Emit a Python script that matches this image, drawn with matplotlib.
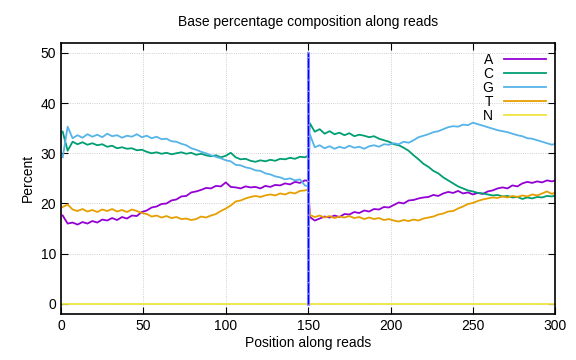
import numpy as np
import matplotlib
matplotlib.use('Agg')
import matplotlib.pyplot as plt

plt.rcParams['font.family'] = ['Liberation Sans', 'DejaVu Sans']

# positions along the reads (read 1: 1-150, read 2: 151-300)
positions = np.r_[np.arange(1, 149, 3), 150, np.arange(151, 299, 3), 300]

base_a = [17.6, 16.0, 16.2, 15.8, 16.3, 16.0, 16.5, 16.2, 16.8, 16.6, 17.1, 16.7, 17.3, 17.0, 17.6, 17.5, 18.3,
          18.6, 19.2, 19.4, 19.9, 20.0, 20.6, 20.8, 21.4, 21.5, 22.2, 22.4, 22.7, 23.1, 23.0, 23.5, 23.4, 24.2,
          23.3, 23.2, 23.0, 23.4, 23.2, 23.3, 23.0, 23.5, 23.3, 23.7, 23.6, 24.0, 23.8, 24.3, 24.1, 24.6, 24.5,
          17.3, 16.6, 17.0, 17.4, 17.2, 17.6, 17.3, 17.9, 17.8, 18.3, 18.1, 18.6, 18.4, 18.9, 18.8, 19.3, 19.2,
          19.7, 20.2, 20.0, 20.6, 20.7, 21.0, 21.2, 21.3, 21.7, 21.5, 22.0, 22.3, 22.1, 22.5, 22.0, 22.2, 21.8,
          22.1, 21.9, 22.4, 22.6, 23.0, 23.2, 23.0, 23.6, 23.4, 24.0, 24.3, 24.1, 24.4, 24.2, 24.6, 24.4, 24.6]

base_c = [34.3, 30.5, 32.3, 31.8, 32.2, 31.7, 32.0, 31.6, 31.8, 31.3, 31.5, 31.0, 31.2, 30.9, 31.0, 30.6, 30.7,
          30.3, 30.0, 30.2, 29.9, 30.1, 29.8, 30.0, 30.2, 29.9, 30.1, 29.7, 29.9, 29.6, 29.4, 29.6, 29.2, 29.5,
          30.1, 29.2, 28.8, 28.9, 28.5, 28.3, 28.6, 28.4, 28.7, 28.5, 28.9, 28.8, 29.1, 28.9, 29.3, 29.2, 29.5,
          36.0, 34.3, 34.8, 33.9, 34.4, 33.8, 34.1, 33.6, 34.0, 33.4, 33.7, 33.5, 33.2, 33.4, 32.9, 32.6, 32.3,
          31.8, 31.6, 31.1, 30.5, 29.6, 28.8, 27.9, 27.3, 26.5, 26.0, 25.2, 24.6, 24.0, 23.4, 23.0, 22.6, 22.4,
          22.1, 22.0, 21.8, 21.6, 21.7, 21.4, 21.5, 21.2, 21.3, 20.9, 21.2, 21.0, 21.3, 21.2, 21.5, 21.4, 21.6]

base_g = [29.2, 35.3, 33.0, 33.6, 33.1, 33.8, 33.3, 33.7, 33.2, 33.9, 33.4, 33.6, 33.1, 33.5, 33.3, 33.8, 33.2,
          33.5, 33.0, 33.3, 32.8, 32.9, 32.4, 32.3, 31.9, 31.6, 31.0, 30.7, 30.3, 30.0, 29.6, 29.3, 29.0, 28.6,
          28.4, 27.7, 27.6, 27.2, 27.0, 26.6, 26.5, 26.0, 25.8, 25.4, 25.2, 24.8, 25.0, 24.6, 24.8, 23.6, 23.4,
          33.8, 31.2, 31.6, 31.0, 31.4, 30.9, 31.3, 31.0, 31.5, 31.1, 31.3, 30.9, 31.4, 31.6, 31.3, 31.8, 31.7,
          32.0, 31.8, 32.3, 32.1, 32.6, 33.2, 33.5, 33.8, 34.2, 34.4, 34.8, 35.2, 35.4, 35.3, 35.7, 35.6, 36.1,
          35.8, 35.5, 35.2, 34.9, 34.6, 34.4, 34.2, 33.9, 33.6, 33.4, 33.0, 32.9, 32.6, 32.3, 32.0, 31.7, 31.9]

base_t = [19.3, 19.8, 18.8, 18.5, 18.9, 18.4, 18.7, 18.3, 18.8, 18.5, 18.9, 18.4, 18.7, 18.3, 18.8, 18.5, 18.1,
          17.9, 17.4, 17.6, 17.2, 17.5, 17.1, 17.3, 16.9, 17.0, 16.7, 16.9, 17.4, 17.2, 17.6, 17.9, 18.5, 19.0,
          19.6, 20.4, 20.6, 21.0, 21.3, 21.5, 21.3, 21.6, 21.8, 21.6, 22.0, 21.8, 22.2, 22.0, 22.5, 22.6, 22.8,
          17.7, 17.3, 17.6, 17.2, 17.5, 17.1, 17.4, 17.2, 17.5, 17.1, 17.3, 16.9, 17.2, 16.9, 17.1, 16.7, 16.9,
          16.6, 16.4, 16.7, 16.5, 16.8, 16.6, 17.0, 17.2, 17.4, 17.8, 18.0, 18.4, 18.5, 19.0, 19.4, 19.9, 20.1,
          20.5, 20.8, 21.0, 21.2, 21.1, 21.4, 21.2, 21.5, 21.3, 21.6, 21.4, 21.8, 21.6, 22.0, 22.4, 21.9, 22.2]

base_n = [0.0] * len(positions)

labels = ['A', 'C', 'G', 'T', 'N']
colors = ['#9400d3', '#009e73', '#56b4e9', '#e69f00', '#f0e442']

fig = plt.figure(figsize=(5.76, 3.6), dpi=100)
ax = fig.add_axes([0.106, 0.128, 0.858, 0.753])

for vals, lab, col in zip([base_a, base_c, base_g, base_t, base_n], labels, colors):
    ax.plot(positions, vals, color=col, lw=1.3, label=lab)

# read boundary marker
ax.plot([150, 150], [0, 50], color='#9090ff', lw=2.2, zorder=5)
ax.plot([150, 150], [0, 50], color='#0000ff', lw=0.9, ls=(0, (8, 1)), zorder=6)

ax.set_xlim(0, 300)
ax.set_ylim(-2, 52)
ax.set_xticks(range(0, 301, 50))
ax.set_yticks(range(0, 51, 10))
ax.tick_params(direction='in', top=True, right=True, labelsize=10, length=5, width=0.8)
ax.grid(True, color='#c0c0c0', ls=':', lw=0.6)
for s in ax.spines.values():
    s.set_linewidth(1.2)

ax.set_title('Base percentage composition along reads', fontsize=10, pad=12)
ax.set_xlabel('Position along reads', fontsize=10, labelpad=2)
ax.set_ylabel('Percent', fontsize=10, labelpad=4)

ax.legend(loc='upper right', frameon=False, markerfirst=False, fontsize=10,
          handlelength=3.0, labelspacing=0.0, borderaxespad=0.3, handletextpad=0.8)

fig.savefig('out.png', dpi=100)
